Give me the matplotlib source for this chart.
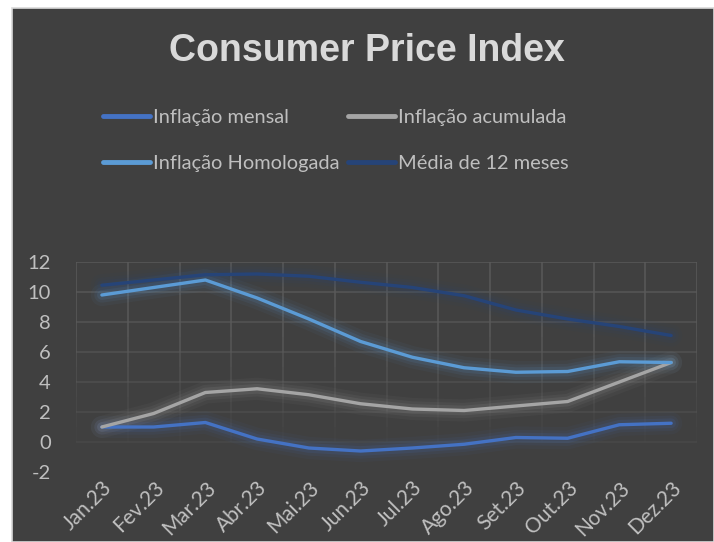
import matplotlib.pyplot as plt
import matplotlib.patches as mpatches
import numpy as np

months = ["Jan.23", "Fev.23", "Mar.23", "Abr.23", "Mai.23", "Jun.23",
          "Jul.23", "Ago.23", "Set.23", "Out.23", "Nov.23", "Dez.23"]
inflacao_mensal = [1.0, 1.0, 1.3, 0.2, -0.4, -0.6, -0.4, -0.15, 0.3, 0.25, 1.15, 1.25]
inflacao_acumulada = [1.0, 1.9, 3.3, 3.55, 3.15, 2.55, 2.2, 2.1, 2.4, 2.7, 4.0, 5.3]
inflacao_homologada = [9.8, 10.3, 10.8, 9.6, 8.2, 6.7, 5.65, 4.95, 4.65, 4.7, 5.35, 5.3]
media_12_meses = [10.45, 10.8, 11.15, 11.2, 11.05, 10.65, 10.3, 9.75, 8.8, 8.2, 7.7, 7.1]

series = [
    ("Inflação mensal", inflacao_mensal, "#4472C4"),
    ("Inflação acumulada", inflacao_acumulada, "#A5A5A5"),
    ("Inflação Homologada", inflacao_homologada, "#5B9BD5"),
    ("Média de 12 meses", media_12_meses, "#264478"),
]

plt.rcParams["axes.unicode_minus"] = False
bg = "#404040"
txt = "#BFBFBF"
W, H = 714, 542

fig = plt.figure(figsize=(W / 100, H / 100), dpi=100)
fig.patch.set_facecolor("white")
fig.patches.append(mpatches.Rectangle((12 / W, 0), 1 - 12 / W, 1 - 8 / H,
                                      transform=fig.transFigure, facecolor=bg,
                                      edgecolor="#D9D9D9", linewidth=1.2, zorder=-1))

ax = fig.add_axes([76 / W, 70 / H, 621 / W, 210 / H])
ax.set_facecolor("none")
x = np.arange(len(months))

# gridlines fading towards the bottom
for yv in range(12, -1, -2):
    ax.axhline(yv, color="#5A5A5A", lw=1.1, alpha=0.35 + 0.65 * yv / 12, zorder=1)
edges = np.arange(-0.5, len(months), 1.0)
steps = np.linspace(-2, 12, 15)
for lo, hi in zip(steps[:-1], steps[1:]):
    ax.vlines(edges, lo, hi, color="#5A5A5A", lw=1.1,
              alpha=max(0.0, min(1.0, (lo + 1) / 8)), zorder=1)

lines = {}
for label, vals, col in series:
    for w, a in [(16, 0.05), (11, 0.08), (7, 0.12)]:
        ax.plot(x, vals, color=col, lw=w, alpha=a, solid_capstyle="round",
                solid_joinstyle="round", zorder=2)
for label, vals, col in series:
    lines[label], = ax.plot(x, vals, color=col, lw=2.4, label=label,
                            solid_capstyle="round", solid_joinstyle="round", zorder=3)

ax.set_xlim(-0.5, 11.5)
ax.set_ylim(-2, 12)
ax.set_yticks(range(-2, 13, 2))
ax.set_xticks(x)
ax.set_xticklabels(months, rotation=45, ha="right", va="top", rotation_mode="anchor")
ax.tick_params(axis="both", length=0, colors=txt)
ax.tick_params(axis="x", pad=4, labelsize=15)
ax.tick_params(axis="y", pad=18, labelsize=14.5)
for lab in ax.get_xticklabels() + ax.get_yticklabels():
    lab.set_fontfamily("Lato")
for s in ax.spines.values():
    s.set_visible(False)

fig.text(367 / W, 1 - 51 / H, "Consumer Price Index", ha="center", va="center",
         fontsize=27, fontweight="bold", color="#D9D9D9", family="Liberation Sans")

# column-major order so rows read: mensal | acumulada, homologada | media
order = ["Inflação mensal", "Inflação Homologada", "Inflação acumulada", "Média de 12 meses"]
leg = fig.legend([lines[k] for k in order], order, loc="upper left",
                 bbox_to_anchor=(95 / W, 1 - 101 / H), ncol=2,
                 frameon=False, handlelength=2.35, handletextpad=0.15,
                 columnspacing=0.4, labelspacing=1.45, borderaxespad=0,
                 prop={"family": "Lato", "size": 14.4})
for t in leg.get_texts():
    t.set_color(txt)
for h in leg.get_lines():
    h.set_linewidth(3.5)

fig.savefig("out.png", dpi=100, facecolor=fig.get_facecolor())
